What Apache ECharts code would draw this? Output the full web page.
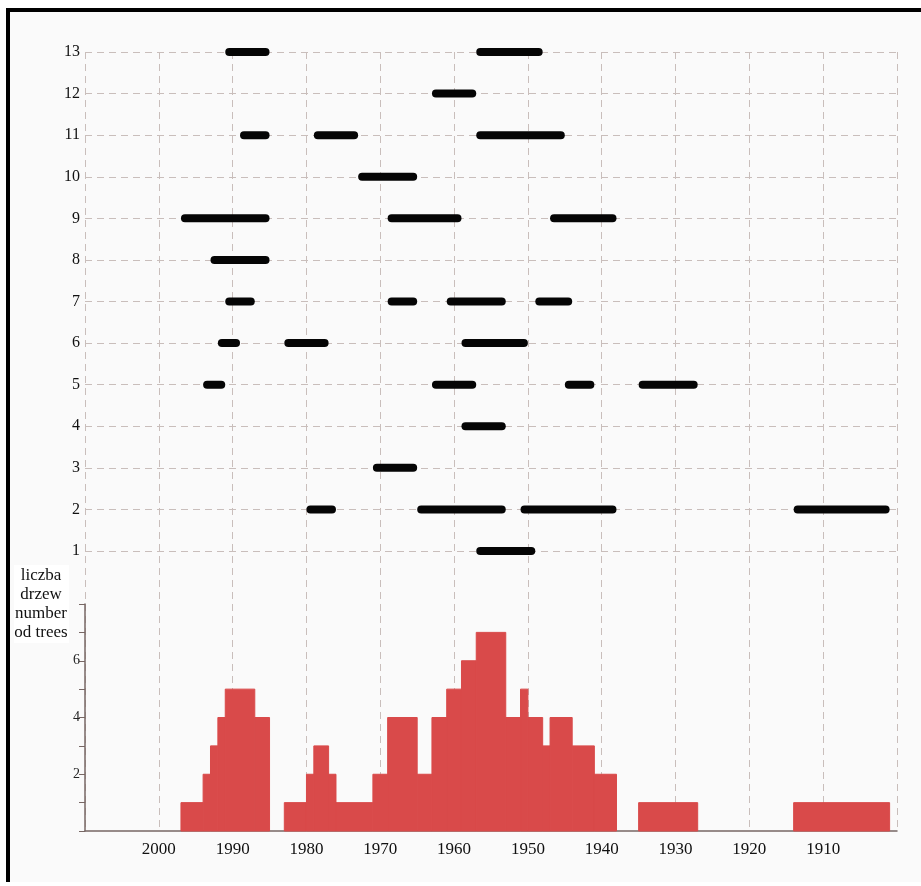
<!DOCTYPE html>
<html>
<head>
<meta charset="utf-8">
<script src="https://cdn.jsdelivr.net/npm/echarts@6/dist/echarts.min.js"></script>
<style>
  html, body { margin: 0; padding: 0; background: #ffffff; }
  #frame { position: absolute; left: 6px; top: 8px; width: 915px; height: 874px;
           border-left: 4px solid #000; border-top: 4px solid #000; background: #fafafa;
           box-sizing: border-box; }
  #chart { position: absolute; left: 0; top: 0; width: 921px; height: 886px; }
</style>
</head>
<body>
<div id="frame"></div>
<div id="chart"></div>
<script>
// ---- data ----
const treeRows = [1, 2, 3, 4, 5, 6, 7, 8, 9, 10, 11, 12, 13];
const yearTicks = [2000, 1990, 1980, 1970, 1960, 1950, 1940, 1930, 1920, 1910];

// growth-period segments: tree row, start year (newer), end year (older)
const segRow  = [13, 13, 12, 11, 11, 11, 10, 9, 9, 9, 8, 7, 7, 7, 7, 6, 6, 6, 5, 5, 5, 5, 4, 3, 2, 2, 2, 2, 1];
const segFrom = [1991, 1957, 1963, 1989, 1979, 1957, 1973, 1997, 1969, 1947, 1993, 1991, 1969, 1961, 1949, 1992, 1983, 1959, 1994, 1963, 1945, 1935, 1959, 1971, 1980, 1965, 1951, 1914, 1957];
const segTo   = [1985, 1948, 1957, 1985, 1973, 1945, 1965, 1985, 1959, 1938, 1985, 1987, 1965, 1953, 1944, 1989, 1977, 1950, 1991, 1957, 1941, 1927, 1953, 1965, 1976, 1953, 1938, 1901, 1949];

// histogram steps: from year, to year, number of trees
const histFrom  = [1997, 1994, 1993, 1992, 1991, 1987, 1983, 1980, 1979, 1977, 1976, 1971, 1969, 1965, 1963, 1961, 1959, 1957, 1953, 1951, 1950, 1948, 1947, 1944, 1941, 1935, 1914];
const histTo    = [1994, 1993, 1992, 1991, 1987, 1985, 1980, 1979, 1977, 1976, 1971, 1969, 1965, 1963, 1961, 1959, 1957, 1953, 1951, 1950, 1948, 1947, 1944, 1941, 1938, 1927, 1901];
const histCount = [1, 2, 3, 4, 5, 4, 1, 2, 3, 2, 1, 2, 4, 2, 4, 5, 6, 7, 4, 5, 4, 3, 4, 3, 2, 1, 1];

const yearMin = 1900, yearMax = 2010;
const serif = '"Liberation Serif", "DejaVu Serif", serif';
const gridColor = '#c9bebb';

const segData = segRow.map((r, i) => [r, segFrom[i], segTo[i]]);
const histData = histCount.map((c, i) => [c, histFrom[i], histTo[i]]);

const chart = echarts.init(document.getElementById('chart'));

const baseX = {
  type: 'value', inverse: true, min: yearMin, max: yearMax, interval: 10
};

chart.setOption({
  animation: false,
  grid: [
    { left: 85, right: 24, top: 52, height: 499 },          // segments
    { left: 85, right: 24, top: 604, height: 227 },         // histogram
    { left: 85, right: 24, top: 52, bottom: 55 }            // vertical grid lines
  ],
  xAxis: [
    Object.assign({}, baseX, { gridIndex: 0, show: false }),
    Object.assign({}, baseX, {
      gridIndex: 1,
      axisLine: { show: true, lineStyle: { color: '#776764', width: 1.5 } },
      axisTick: { show: false },
      splitLine: { show: false },
      axisLabel: {
        show: true, color: '#111', fontFamily: serif, fontSize: 17, margin: 10,
        showMinLabel: false, showMaxLabel: false,
        formatter: v => (yearTicks.indexOf(v) >= 0 ? String(v) : '')
      }
    }),
    Object.assign({}, baseX, {
      gridIndex: 2,
      axisLine: { show: false }, axisTick: { show: false }, axisLabel: { show: false },
      splitLine: { show: true, lineStyle: { color: gridColor, type: [7, 5], width: 1 } }
    })
  ],
  yAxis: [
    {
      gridIndex: 0, type: 'value', min: 1, max: 13, interval: 1,
      axisLine: { show: false }, axisTick: { show: false },
      axisLabel: {
        color: '#111', fontFamily: serif, fontSize: 16, margin: 5,
        formatter: v => (treeRows.indexOf(v) >= 0 ? String(v) : '')
      },
      splitLine: { show: true, lineStyle: { color: gridColor, type: [7, 5], width: 1 } }
    },
    {
      gridIndex: 1, type: 'value', min: 0, max: 8, interval: 1,
      axisLine: { show: true, lineStyle: { color: '#776764', width: 1.5 } },
      axisTick: { show: true, length: 6, lineStyle: { color: '#776764' } },
      axisLabel: {
        color: '#222', fontFamily: serif, fontSize: 14, margin: 5,
        formatter: v => (v === 2 || v === 4 || v === 6 ? String(v) : '')
      },
      splitLine: { show: false }
    },
    { gridIndex: 2, type: 'value', min: 0, max: 1, show: false, splitLine: { show: false } }
  ],
  graphic: [
    { type: 'rect', left: 14, top: 565, shape: { width: 55, height: 78 }, style: { fill: '#ffffff' }, z: 10 },
    {
      type: 'text', left: 13, top: 566, z: 11,
      style: {
        text: 'liczba\ndrzew\nnumber\nod trees', width: 56, align: 'center',
        x: 28, textAlign: 'center',
        font: '17px ' + serif, lineHeight: 19, fill: '#111'
      }
    }
  ],
  series: [
    {
      type: 'custom', xAxisIndex: 0, yAxisIndex: 0, z: 5,
      data: segData,
      encode: { y: 0, x: [1, 2] },
      renderItem: function (params, api) {
        const p1 = api.coord([api.value(1), api.value(0)]);
        const p2 = api.coord([api.value(2), api.value(0)]);
        const x = Math.min(p1[0], p2[0]);
        const w = Math.abs(p2[0] - p1[0]);
        return { type: 'rect', shape: { x: x, y: p1[1] - 4, width: w, height: 8, r: 4 },
                 style: { fill: '#050505' } };
      }
    },
    {
      type: 'custom', xAxisIndex: 1, yAxisIndex: 1, z: 5,
      data: histData,
      encode: { y: 0, x: [1, 2] },
      renderItem: function (params, api) {
        const p1 = api.coord([api.value(1), api.value(0)]);
        const p2 = api.coord([api.value(2), 0]);
        const x = Math.min(p1[0], p2[0]);
        const w = Math.abs(p2[0] - p1[0]);
        return { type: 'rect', shape: { x: x, y: p1[1], width: w, height: p2[1] - p1[1] },
                 style: { fill: '#d94a4a', stroke: '#d94a4a', lineWidth: 1 } };
      }
    }
  ]
});
</script>
</body>
</html>
